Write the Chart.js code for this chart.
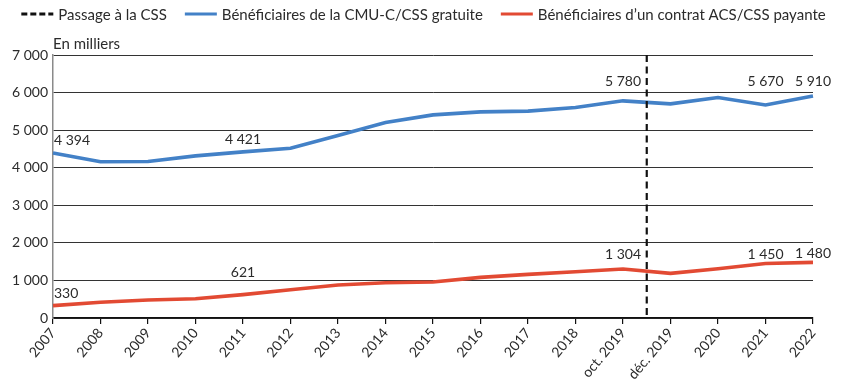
<!DOCTYPE html>
<html><head><meta charset="utf-8">
<script src="https://cdn.jsdelivr.net/npm/chart.js@4/dist/chart.umd.min.js"></script>
<style>html,body{margin:0;padding:0;background:#fff}#wrap{width:847px;height:389px;position:relative}</style>
</head><body><div id="wrap"><canvas id="c"></canvas></div>
<script>
// ---- Data ----
const categories = ['2007','2008','2009','2010','2011','2012','2013','2014','2015','2016','2017','2018','oct. 2019','déc. 2019','2020','2021','2022'];
const cmuValues = [4394,4160,4165,4316,4421,4520,4860,5204,5407,5487,5505,5604,5780,5700,5870,5670,5910];
const acsValues = [330,418,479,513,621,750,878,939,957,1082,1162,1231,1304,1188,1311,1450,1480];
const yTicks = [0,1000,2000,3000,4000,5000,6000,7000];
const seriesNames = ['Passage à la CSS','Bénéficiaires de la CMU-C/CSS gratuite',"Bénéficiaires d’un contrat ACS/CSS payante"];
const unitLabel = 'En milliers';
// points carrying a value label (category index)
const cmuLabelled = [0,4,12,15,16];
const acsLabelled = [0,4,12,15,16];
const cssBetween = [12,13]; // dashed line sits between these categories

const BLUE = '#4381c7', RED = '#e24a33', TXT = '#2b2b2b';
const TICK_FONT = {family:'Lato, "Open Sans", sans-serif', size:14};
const LEG_FONT = '15px Lato, "Open Sans", sans-serif';

const fmt = v => String(v).replace(/\B(?=(\d{3})+(?!\d))/g, ' ');

// label placement (style only): alignment and pixel lift above the point
const labelStyle = {
  cmu: {0:['left',12],4:['center',12],12:['center',19],15:['center',23],16:['center',14]},
  acs: {0:['left',12],4:['center',22],12:['center',15],15:['center',9.5],16:['center',8.5]}
};

const overlay = {
  id:'overlay',
  afterDatasetsDraw(chart){
    const {ctx, chartArea:a, scales:{x,y}} = chart;
    ctx.save();
    // CSS dashed line
    const xm = (x.getPixelForValue(cssBetween[0]) + x.getPixelForValue(cssBetween[1]))/2;
    ctx.strokeStyle = '#111'; ctx.lineWidth = 2.2; ctx.setLineDash([7,4.5]);
    ctx.beginPath(); ctx.moveTo(xm, a.top); ctx.lineTo(xm, a.bottom); ctx.stroke();
    ctx.setLineDash([]);
    // value labels
    ctx.font = '14px Lato, "Open Sans", sans-serif';
    ctx.fillStyle = TXT; ctx.textBaseline = 'middle';
    const put = (vals, idxs, st) => idxs.forEach(i => {
      const [al, lift] = st[i];
      const px = x.getPixelForValue(i), py = y.getPixelForValue(vals[i]) - lift;
      ctx.textAlign = al;
      ctx.fillText(fmt(vals[i]), al === 'left' ? px + 1 : px, py);
    });
    put(cmuValues, cmuLabelled, labelStyle.cmu);
    put(acsValues, acsLabelled, labelStyle.acs);
    // unit label
    ctx.textAlign = 'left'; ctx.font = LEG_FONT;
    ctx.fillText(unitLabel, a.left, a.top - 11);
    // legend
    const items = chart.data.datasets.map(d => ({text:d.label, color:d.borderColor, dash:d.borderDash||[]}));
    const sample = 32, gapT = 5, gapI = 18;
    ctx.font = LEG_FONT;
    const widths = items.map(it => sample + gapT + ctx.measureText(it.text).width);
    const total = widths.reduce((s,w)=>s+w,0) + gapI*(items.length-1);
    let cx = (chart.width - total)/2; const cy = 14;
    items.forEach((it,k) => {
      ctx.strokeStyle = it.color; ctx.lineWidth = 3.2; ctx.setLineDash(it.dash);
      ctx.beginPath(); ctx.moveTo(cx, cy); ctx.lineTo(cx+sample, cy); ctx.stroke();
      ctx.setLineDash([]);
      ctx.fillStyle = TXT; ctx.textAlign = 'left';
      ctx.fillText(it.text, cx + sample + gapT, cy + 1);
      cx += widths[k] + gapI;
    });
    ctx.restore();
  }
};

new Chart(document.getElementById('c'), {
  type:'line',
  data:{
    labels: categories,
    datasets:[
      {label: seriesNames[0], data: [], borderColor:'#111', borderDash:[6,3], borderWidth:3},
      {label: seriesNames[1], data: cmuValues, borderColor: BLUE, borderWidth:3.6, pointRadius:0, tension:0, fill:false},
      {label: seriesNames[2], data: acsValues, borderColor: RED, borderWidth:3.6, pointRadius:0, tension:0, fill:false}
    ]
  },
  options:{
    responsive:true, maintainAspectRatio:false, animation:false,
    layout:{padding:{top:55, right:34, left:0, bottom:0}},
    plugins:{legend:{display:false}, tooltip:{enabled:false}},
    scales:{
      x:{
        offset:false,
        grid:{drawOnChartArea:false, drawTicks:true, tickLength:6, color:'#111', lineWidth:1.2},
        border:{color:'#111', width:1.5},
        ticks:{autoSkip:false, minRotation:50, maxRotation:50, color:TXT, font:TICK_FONT, padding:1},
        afterFit(s){ s.height = 71; }
      },
      y:{
        min:0, max:7000,
        afterBuildTicks(s){ s.ticks = yTicks.map(v=>({value:v})); },
        grid:{drawTicks:false, color:'#333', lineWidth:1},
        border:{color:'#8a8a8a', width:1.5},
        ticks:{color:TXT, font:TICK_FONT, padding:5, callback:v=>fmt(v)},
        afterFit(s){ s.width = 53; }
      }
    }
  },
  plugins:[overlay]
});
</script></body></html>
